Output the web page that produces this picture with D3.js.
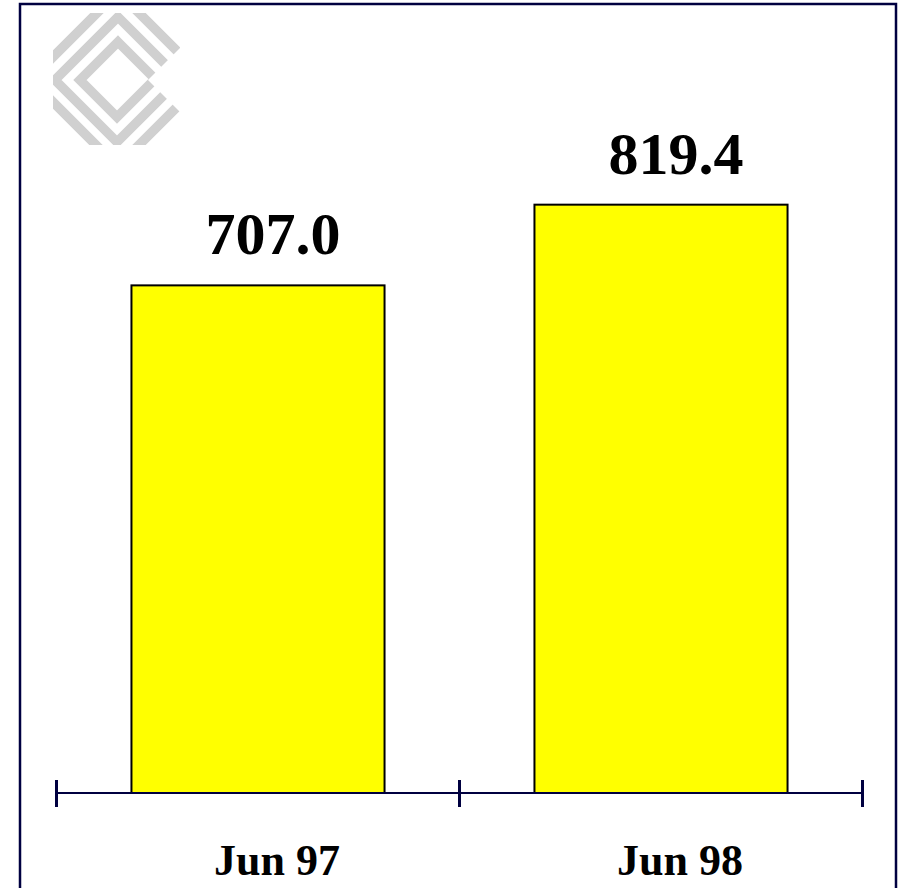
<!DOCTYPE html>
<html>
<head>
<meta charset="utf-8">
<script src="https://cdn.jsdelivr.net/npm/d3@7"></script>
<style>
  body { margin: 0; background: #fff; }
  svg { display: block; }
</style>
</head>
<body>
<svg id="chart" width="899" height="888"></svg>
<script>
// data
var categories = ["Jun 97", "Jun 98"];
var values = [707.0, 819.4];
var valueLabels = ["707.0", "819.4"];

var W = 899, H = 888;
var navy = "#000040";
var axisY = 793;        // baseline of bars
var labelShift = 15;    // value labels sit a bit right of bar centre
var tickShift = 19;     // category labels too

var svg = d3.select("#chart");

// frame round the whole chart (bottom edge falls off the page)
svg.append("rect")
	.attr("x", 20)
	.attr("y", 4)
	.attr("width", 876)
	.attr("height", H + 20)
	.attr("fill", "#fff")
	.attr("stroke", navy)
	.attr("stroke-width", 2.5);

// grey logo top left: three nested diamonds, cut by a notch on the right
var logo = svg.append("g").attr("transform", "translate(53,13)");
logo.append("defs").append("clipPath")
	.attr("id", "logo-clip")
	.append("polygon")
	.attr("points", "0,0 127,0 127,35 95,67 127,99 127,132 0,132");

// each diamond as its edge lines: x+y=c1, x-y=d1, x-y=d2, x+y=c2
var diamonds = [
	[94, 36, -40, 168],
	[69, 61, -65, 193],
	[44, 86, -89, 218]
];
function diamondPath(s){
	var c1 = s[0], d1 = s[1], d2 = s[2], c2 = s[3];
	var pts = [
		[(c1+d1)/2, (c1-d1)/2],
		[(c2+d1)/2, (c2-d1)/2],
		[(c2+d2)/2, (c2-d2)/2],
		[(c1+d2)/2, (c1-d2)/2]
	];
	return "M" + pts.map(function(p){ return p[0] + "," + p[1]; }).join("L") + "Z";
}
logo.append("g")
	.attr("clip-path", "url(#logo-clip)")
	.selectAll("path")
	.data(diamonds)
	.enter()
	.append("path")
	.attr("d", diamondPath)
	.attr("fill", "none")
	.attr("stroke", "#d0d0d0")
	.attr("stroke-linejoin", "miter")
	.attr("stroke-width", 9.5);

// scales
var x = d3.scaleBand()
	.domain(categories)
	.range([56.5, 862.5])
	.paddingInner(0.372)
	.paddingOuter(0.186);

var y = d3.scaleLinear()
	.domain([0, 1000])
	.range([axisY, axisY - 718]);

// bars
svg.selectAll("rect.bar")
	.data(values)
	.enter()
	.append("rect")
	.attr("class", "bar")
	.attr("x", function(d, i){ return x(categories[i]); })
	.attr("y", function(d){ return y(d); })
	.attr("width", x.bandwidth())
	.attr("height", function(d){ return axisY - y(d); })
	.attr("fill", "#ffff00")
	.attr("stroke", "#000")
	.attr("stroke-width", 2);

// value labels
svg.selectAll("text.value")
	.data(values)
	.enter()
	.append("text")
	.attr("class", "value")
	.attr("x", function(d, i){ return x(categories[i]) + x.bandwidth()/2 + labelShift; })
	.attr("y", function(d){ return y(d) - 31; })
	.attr("text-anchor", "middle")
	.attr("font-family", "'Liberation Serif', 'Times New Roman', serif")
	.attr("font-weight", "bold")
	.attr("font-size", 60)
	.text(function(d, i){ return valueLabels[i]; });

// category axis: line plus ticks at the band edges
var edges = [x.range()[0]].concat(categories.map(function(c){ return x(c) - x.step()*x.paddingOuter() + x.step(); }));
svg.append("line")
	.attr("x1", x.range()[0])
	.attr("x2", x.range()[1])
	.attr("y1", axisY)
	.attr("y2", axisY)
	.attr("stroke", navy)
	.attr("stroke-width", 2);

svg.selectAll("line.tick")
	.data(edges)
	.enter()
	.append("line")
	.attr("class", "tick")
	.attr("x1", function(d){ return d; })
	.attr("x2", function(d){ return d; })
	.attr("y1", axisY - 13)
	.attr("y2", axisY + 14)
	.attr("stroke", navy)
	.attr("stroke-width", 3);

svg.selectAll("text.cat")
	.data(categories)
	.enter()
	.append("text")
	.attr("class", "cat")
	.attr("x", function(d){ return x(d) + x.bandwidth()/2 + tickShift; })
	.attr("y", 875)
	.attr("text-anchor", "middle")
	.attr("font-family", "'Liberation Serif', 'Times New Roman', serif")
	.attr("font-weight", "bold")
	.attr("font-size", 44)
	.text(function(d){ return d; });
</script>
</body>
</html>
